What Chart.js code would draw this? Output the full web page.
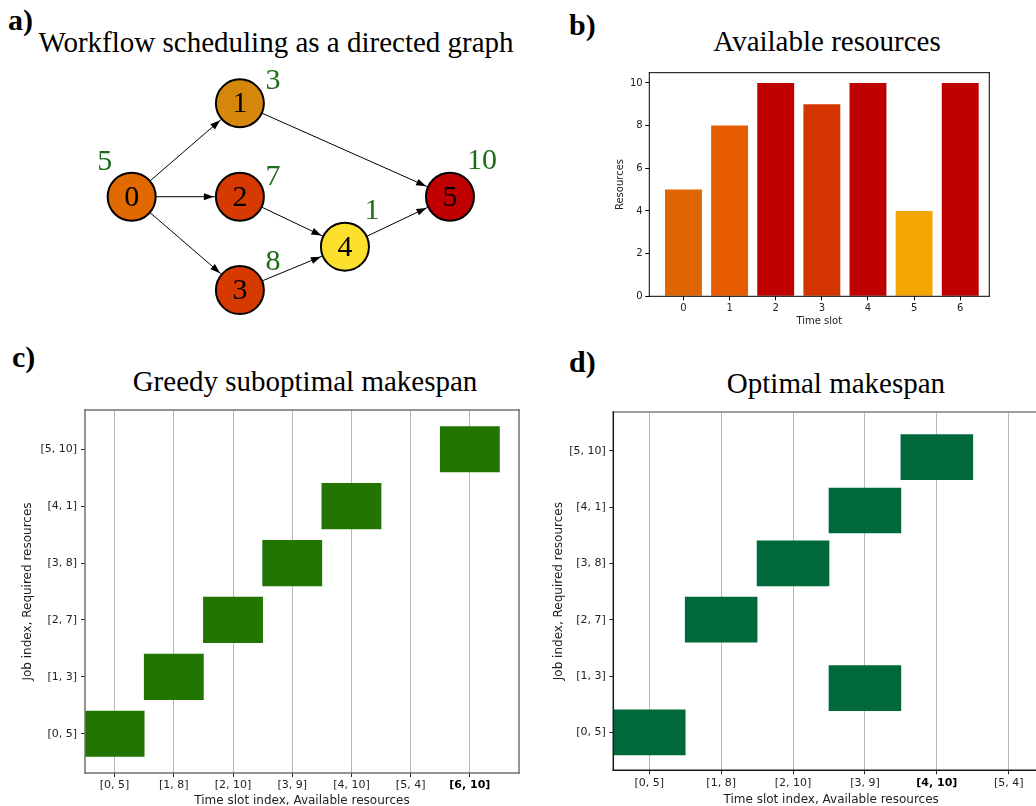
<!DOCTYPE html>
<html>
<head>
<meta charset="utf-8">
<script src="https://cdn.jsdelivr.net/npm/chart.js@4.4.0/dist/chart.umd.min.js"></script>
<style>
  html, body { margin: 0; padding: 0; background: #fff; }
  body { width: 1036px; height: 806px; overflow: hidden; position: relative; }
  canvas { position: absolute; }
  .title { position: absolute; font-family: "Liberation Serif", "Times New Roman", serif; font-size: 29px; line-height: 1; white-space: nowrap; transform: translateX(-50%); color: #000; }
  .tag { position: absolute; font-family: "Liberation Serif", "Times New Roman", serif; font-weight: bold; font-size: 30px; line-height: 1; color: #000; }
</style>
</head>
<body>
<div class="tag" style="left:8px;top:5px">a)</div>
<div class="title" style="left:276px;top:28px">Workflow scheduling as a directed graph</div>
<canvas id="graph" width="520" height="270" style="left:0;top:60px"></canvas>

<div class="tag" style="left:569px;top:10px">b)</div>
<div class="title" style="left:827px;top:27px">Available resources</div>
<canvas id="resources" width="436" height="270" style="left:600px;top:60px"></canvas>

<div class="tag" style="left:12px;top:342px">c)</div>
<div class="title" style="left:305px;top:367px">Greedy suboptimal makespan</div>
<canvas id="greedy" width="540" height="430" style="left:0;top:390px"></canvas>

<div class="tag" style="left:569px;top:347px">d)</div>
<div class="title" style="left:836px;top:369px">Optimal makespan</div>
<canvas id="optimal" width="540" height="430" style="left:540px;top:390px"></canvas>

<script>
// a) workflow graph: node positions in graph units, weights = required resources
var nodeNames = ['0', '1', '2', '3', '4', '5'];
var nodeX = [0, 1.02, 1.02, 1.02, 2.01, 3];
var nodeY = [0, 1, 0, -1, -0.535, 0];
var nodeWeights = [5, 3, 7, 8, 1, 10];
var edgeFrom = [0, 0, 0, 1, 2, 3, 4];
var edgeTo = [1, 2, 3, 5, 4, 4, 5];

// b) available resources per time slot
var slotNames = ['0', '1', '2', '3', '4', '5', '6'];
var slotResources = [5, 8, 10, 9, 10, 4, 10];
var resourceTicks = [0, 2, 4, 6, 8, 10];

// c) / d) schedules
var jobLabels = ['[0, 5]', '[1, 3]', '[2, 7]', '[3, 8]', '[4, 1]', '[5, 10]'];
var slotLabels = ['[0, 5]', '[1, 8]', '[2, 10]', '[3, 9]', '[4, 10]', '[5, 4]', '[6, 10]'];
var greedySlot = [0, 1, 2, 3, 4, 6];
var greedyRow = [0, 1, 2, 3, 4, 5];
var optimalSlot = [0, 3, 1, 2, 3, 4];
var optimalRow = [0, 0.785, 2, 3, 3.94, 4.89];

// styles
var SERIF = '"Liberation Serif", "Times New Roman", serif';
var SANS = '"DejaVu Sans", sans-serif';
var INK = '#222';
var nodeFill = ['#e06a00', '#d4870a', '#d63a00', '#d63a00', '#fde02c', '#c00000'];
var weightShift = [[-27, -35], [33, -22], [33, -20], [33, -28], [27, -36], [32, -36]];
var slotFill = ['#de6502', '#e85c00', '#bf0000', '#d43500', '#bf0000', '#f5a500', '#bf0000'];
var barHalf = 0.4;

Chart.defaults.font.family = SANS;
Chart.defaults.color = INK;

// box around the plot area, one colour per side
Chart.register({
    id: 'frame',
    afterDatasetsDraw: function (chart, args, opts) {
        if (!opts.sides) return;
        var ctx = chart.ctx, a = chart.chartArea;
        var edges = {
            top: [a.left, a.top, a.right, a.top],
            right: [a.right, a.top, a.right, a.bottom],
            bottom: [a.left, a.bottom, a.right, a.bottom],
            left: [a.left, a.top, a.left, a.bottom]
        };
        ctx.save();
        ctx.lineWidth = opts.width || 1;
        ctx.lineCap = 'square';
        Object.keys(opts.sides).forEach(function (side) {
            var e = edges[side];
            ctx.strokeStyle = opts.sides[side];
            ctx.beginPath();
            ctx.moveTo(e[0], e[1]);
            ctx.lineTo(e[2], e[3]);
            ctx.stroke();
        });
        ctx.restore();
    }
});

// arrow heads, node numbers and the green weights
var graphDecor = {
    id: 'graphDecor',
    afterDatasetsDraw: function (chart) {
        var ctx = chart.ctx, sx = chart.scales.x, sy = chart.scales.y;
        var px = function (i) { return sx.getPixelForValue(nodeX[i]); };
        var py = function (i) { return sy.getPixelForValue(nodeY[i]); };
        ctx.save();
        ctx.fillStyle = '#000';
        edgeFrom.forEach(function (s, k) {
            var t = edgeTo[k];
            var ang = Math.atan2(py(t) - py(s), px(t) - px(s));
            var c = Math.cos(ang), n = Math.sin(ang);
            var tx = px(t) - c * 26, ty = py(t) - n * 26;
            ctx.beginPath();
            ctx.moveTo(tx, ty);
            ctx.lineTo(tx - 10 * c + 3.5 * n, ty - 10 * n - 3.5 * c);
            ctx.lineTo(tx - 10 * c - 3.5 * n, ty - 10 * n + 3.5 * c);
            ctx.closePath();
            ctx.fill();
        });
        ctx.textAlign = 'center';
        ctx.textBaseline = 'middle';
        ctx.font = '30px ' + SERIF;
        nodeNames.forEach(function (name, i) {
            ctx.fillStyle = '#000';
            ctx.fillText(name, px(i), py(i) + 1);
            ctx.fillStyle = '#1e6b18';
            ctx.fillText(String(nodeWeights[i]), px(i) + weightShift[i][0], py(i) + weightShift[i][1]);
        });
        ctx.restore();
    }
};

var graphSets = [{
    data: nodeX.map(function (x, i) { return {x: x, y: nodeY[i]}; }),
    pointRadius: 24,
    pointBackgroundColor: nodeFill,
    pointBorderColor: '#000',
    pointBorderWidth: 2,
    order: 0
}];
edgeFrom.forEach(function (s, k) {
    var t = edgeTo[k];
    graphSets.push({
        data: [{x: nodeX[s], y: nodeY[s]}, {x: nodeX[t], y: nodeY[t]}],
        showLine: true,
        borderColor: '#000',
        borderWidth: 1,
        pointRadius: 0,
        order: 1
    });
});

new Chart(document.getElementById('graph'), {
    type: 'scatter',
    data: {datasets: graphSets},
    options: {
        responsive: false,
        animation: false,
        events: [],
        layout: {padding: 0, autoPadding: false},
        plugins: {legend: {display: false}, tooltip: {enabled: false}},
        scales: {
            x: {type: 'linear', display: false, min: -1.241, max: 3.66},
            y: {type: 'linear', display: false, min: -1.427, max: 1.464}
        }
    },
    plugins: [graphDecor]
});

// b) bar chart
new Chart(document.getElementById('resources'), {
    type: 'bar',
    data: {
        datasets: [{
            data: slotResources.map(function (v, i) { return {x: i, y: v}; }),
            backgroundColor: slotFill,
            barPercentage: 0.8,
            categoryPercentage: 1
        }]
    },
    options: {
        responsive: false,
        animation: false,
        events: [],
        layout: {padding: {top: 12.7, right: 46.7, left: 0, bottom: 0}, autoPadding: false},
        plugins: {
            legend: {display: false},
            tooltip: {enabled: false},
            frame: {width: 1, sides: {top: '#000', right: '#000', bottom: '#000', left: '#000'}}
        },
        scales: {
            x: {
                type: 'linear', min: -0.74, max: 6.63, offset: false,
                afterBuildTicks: function (s) { s.ticks = slotNames.map(function (_, i) { return {value: i}; }); },
                afterFit: function (s) { s.height = 33.7; },
                ticks: {
                    callback: function (v) { return slotNames[v]; },
                    font: {size: 10}, padding: 1.7, maxRotation: 0, autoSkip: false
                },
                grid: {drawOnChartArea: false, tickLength: 4, tickColor: '#000', offset: false},
                border: {display: false},
                title: {display: true, text: 'Time slot', font: {size: 10}, padding: {top: 0, bottom: 2.3}}
            },
            y: {
                type: 'linear', min: 0, max: 10.48,
                afterBuildTicks: function (s) { s.ticks = resourceTicks.map(function (v) { return {value: v}; }); },
                afterFit: function (s) { s.width = 49.3; },
                ticks: {font: {size: 10}, padding: 2.6},
                grid: {drawOnChartArea: false, tickLength: 4, tickColor: '#000'},
                border: {display: false},
                title: {display: true, text: 'Resources', font: {size: 10}, padding: {top: 14, bottom: 0}}
            }
        }
    }
});

// c) and d) schedules
function scheduleChart(id, slots, rows, xLabels, fill, g) {
    var boldIdx = Math.max.apply(null, slots);
    new Chart(document.getElementById(id), {
        type: 'bar',
        data: {
            datasets: [{
                data: slots.map(function (s, j) {
                    return {x: s + 0.5, y: [rows[j] - barHalf, rows[j] + barHalf]};
                }),
                backgroundColor: fill,
                barPercentage: 1,
                categoryPercentage: 1
            }]
        },
        options: {
            responsive: false,
            animation: false,
            events: [],
            layout: {padding: {top: g.padTop, right: g.padRight, left: 0, bottom: 0}, autoPadding: false},
            plugins: {
                legend: {display: false},
                tooltip: {enabled: false},
                frame: {width: 1.5, sides: g.frame}
            },
            scales: {
                x: {
                    type: 'linear', min: 0, max: g.xMax, offset: false,
                    afterBuildTicks: function (s) { s.ticks = xLabels.map(function (_, k) { return {value: k + 0.5}; }); },
                    afterFit: function (s) { s.height = g.xHeight; },
                    ticks: {
                        callback: function (v) { return xLabels[Math.round(v - 0.5)]; },
                        font: function (ctx) {
                            var bold = ctx.tick && Math.round(ctx.tick.value - 0.5) === boldIdx;
                            return {family: SANS, size: 11, weight: bold ? 'bold' : 'normal'};
                        },
                        color: function (ctx) {
                            return ctx.tick && Math.round(ctx.tick.value - 0.5) === boldIdx ? '#000' : INK;
                        },
                        padding: g.xPad, maxRotation: 0, autoSkip: false
                    },
                    grid: {color: '#b8b8b8', lineWidth: 1, tickLength: 4, tickColor: INK, offset: false},
                    border: {display: false},
                    title: {display: true, text: 'Time slot index, Available resources', font: {size: 12}, padding: {top: 0, bottom: g.xTitlePad}}
                },
                y: {
                    type: 'linear', min: g.yMin, max: g.yMax,
                    afterBuildTicks: function (s) { s.ticks = jobLabels.map(function (_, k) { return {value: k}; }); },
                    afterFit: function (s) { s.width = g.yWidth; },
                    ticks: {
                        callback: function (v) { return jobLabels[v]; },
                        font: {size: 11}, padding: g.yPad
                    },
                    grid: {drawOnChartArea: false, tickLength: 4, tickColor: INK},
                    border: {display: false},
                    title: {display: true, text: 'Job index, Required resources', font: {size: 12}, padding: {top: g.yTitlePad, bottom: 0}}
                }
            }
        }
    });
}

scheduleChart('greedy', greedySlot, greedyRow, slotLabels, '#217500', {
    padTop: 20, padRight: 21, xMax: 7.33, yMin: -0.69, yMax: 5.69,
    xHeight: 47, yWidth: 85, xPad: 1.5, yPad: 4, xTitlePad: 12.3, yTitlePad: 21.1,
    frame: {top: '#707070', right: '#707070', bottom: '#707070', left: '#707070'}
});

scheduleChart('optimal', optimalSlot, optimalRow, slotLabels.slice(0, 6), '#00693c', {
    padTop: 22, padRight: 31, xMax: 6.06, yMin: -0.675, yMax: 5.69,
    xHeight: 49.7, yWidth: 73.3, xPad: 2.4, yPad: 3.6, xTitlePad: 12.8, yTitlePad: 11.8,
    frame: {top: '#808080', right: '#808080', bottom: '#1a1a1a', left: '#1a1a1a'}
});
</script>
</body>
</html>
